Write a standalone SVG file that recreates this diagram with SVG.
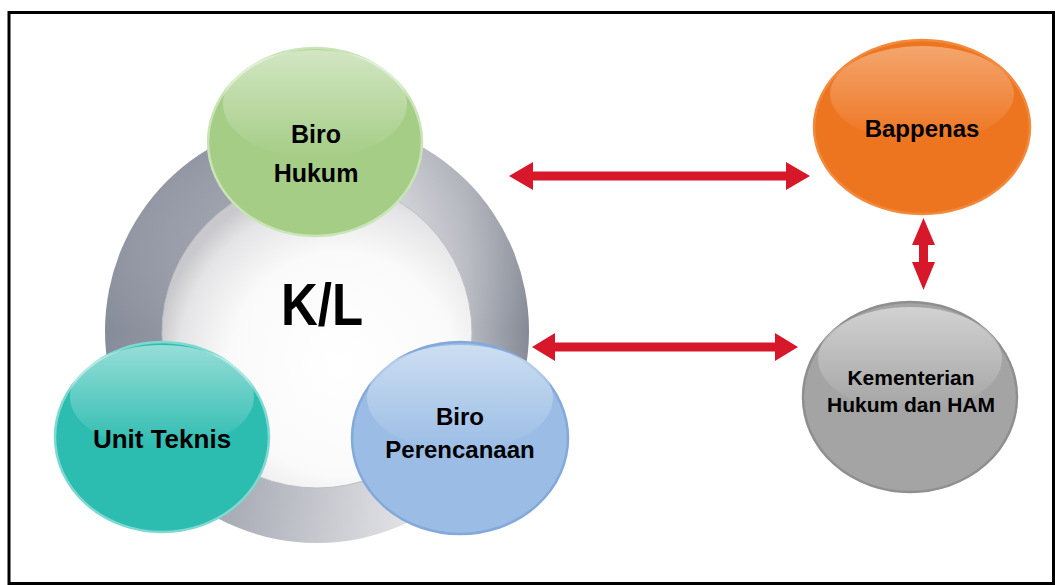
<svg xmlns="http://www.w3.org/2000/svg" width="1055" height="585" viewBox="0 0 1055 585">
<style>
.lbl{font-family:"Liberation Sans",Arial,sans-serif;font-weight:bold;fill:#000;text-anchor:middle}
.arrow{fill:#d7182a}
.hl{fill:url(#gloss)}
</style>
<defs>
<linearGradient id="ring" x1="0" y1="0" x2="1" y2="0">
<stop offset="0" stop-color="#868b99"/>
<stop offset="0.3" stop-color="#9da1ac"/>
<stop offset="0.7" stop-color="#dcdce0"/>
<stop offset="0.85" stop-color="#b9bbc2"/>
<stop offset="1" stop-color="#848995"/>
</linearGradient>
<linearGradient id="ringV" x1="0" y1="0" x2="0" y2="1">
<stop offset="0" stop-color="#6d7385" stop-opacity="0.35"/>
<stop offset="0.5" stop-color="#ffffff" stop-opacity="0"/>
<stop offset="1" stop-color="#ffffff" stop-opacity="0.15"/>
</linearGradient>
<radialGradient id="inner" cx="0.58" cy="0.6" r="0.6">
<stop offset="0" stop-color="#ffffff"/>
<stop offset="0.6" stop-color="#fafafa"/>
<stop offset="0.88" stop-color="#e4e4e6"/>
<stop offset="1" stop-color="#c9c9cd"/>
</radialGradient>
<linearGradient id="gloss" x1="0" y1="0" x2="0" y2="1">
<stop offset="0" stop-color="#ffffff" stop-opacity="0.5"/>
<stop offset="1" stop-color="#ffffff" stop-opacity="0"/>
</linearGradient>
</defs>

<path d="M9,585 V12.5 H1053.5 V583.5 H9" fill="none" stroke="#000" stroke-width="3"/>

<g id="kl">
<circle cx="317" cy="331" r="212" fill="url(#ring)"/>
<circle cx="317" cy="331" r="212" fill="url(#ringV)"/>
<circle cx="317" cy="333" r="155" fill="url(#inner)" stroke="#bfc0c6" stroke-width="1"/>
<text class="lbl" x="322" y="325" font-size="60" textLength="82" lengthAdjust="spacingAndGlyphs">K/L</text>
</g>

<g id="biro-hukum">
<ellipse cx="315" cy="142" rx="107" ry="94" fill="#a5cd86" stroke="#c9e4b7" stroke-width="2.5"/>
<ellipse class="hl" cx="315" cy="104" rx="92" ry="54"/>
<text class="lbl" x="316" y="143" font-size="25">Biro</text>
<text class="lbl" x="316" y="182" font-size="25">Hukum</text>
</g>

<g id="unit-teknis">
<ellipse cx="162" cy="437" rx="107" ry="95" fill="#2dbcb0" stroke="#7fd9d1" stroke-width="2.5"/>
<ellipse class="hl" cx="162" cy="397" rx="92" ry="52"/>
<text class="lbl" x="162" y="448" font-size="26">Unit Teknis</text>
</g>

<g id="biro-perencanaan">
<ellipse cx="460" cy="438" rx="108" ry="96" fill="#9bbde5" stroke="#82a9da" stroke-width="2.5"/>
<ellipse class="hl" cx="460" cy="398" rx="93" ry="53"/>
<text class="lbl" x="460" y="425" font-size="24">Biro</text>
<text class="lbl" x="460" y="458" font-size="24">Perencanaan</text>
</g>

<g id="bappenas">
<ellipse cx="922" cy="127" rx="108" ry="87" fill="#ee7520" stroke="#f28a3e" stroke-width="2.5"/>
<ellipse class="hl" cx="922" cy="94" rx="92" ry="48" opacity="0.7"/>
<text class="lbl" x="922" y="137" font-size="24">Bappenas</text>
</g>

<g id="kemenkumham">
<ellipse cx="910" cy="397" rx="107" ry="95" fill="#a4a4a4" stroke="#8f8f8f" stroke-width="2.5"/>
<ellipse class="hl" cx="910" cy="359" rx="92" ry="52"/>
<text class="lbl" x="911" y="385" font-size="21">Kementerian</text>
<text class="lbl" x="911" y="412" font-size="21">Hukum dan HAM</text>
</g>

<g id="connectors">
<polygon class="arrow" points="509,176 533,162 533,171.5 786,171.5 786,162 810,176 786,190 786,180.5 533,180.5 533,190"/>
<polygon class="arrow" points="532,347 555,333 555,342.5 775,342.5 775,333 798,347 775,361 775,351.5 555,351.5 555,361"/>
<polygon class="arrow" points="923.5,218 935,245 928,245 928,262 935,262 923.5,290 912,262 919,262 919,245 912,245"/>
</g>
</svg>
